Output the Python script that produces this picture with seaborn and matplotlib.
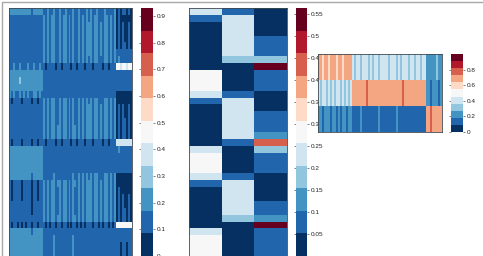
import numpy as np
import matplotlib
matplotlib.use("Agg")
import matplotlib.pyplot as plt
from matplotlib.colors import ListedColormap
from matplotlib.patches import Rectangle
import seaborn as sns

WIDTH, HEIGHT = 483, 256

# Mean weight of each row in the four column groups of the left map
left_rows = [
    [.19, .15, .15, .09], [.12, .165, .165, .07], [.12, .165, .17, .08], [.12, .165, .17, .08],
    [.12, .165, .17, .08], [.12, .165, .17, .085], [.12, .165, .17, .11], [.13, .165, .165, .15],
    [.15, .10, .10, .44], [.21, .13, .12, .12], [.23, .13, .12, .12], [.21, .13, .12, .13],
    [.16, .13, .13, .06], [.10, .165, .165, .05], [.12, .165, .17, .08], [.12, .165, .17, .08],
    [.12, .165, .17, .085], [.12, .17, .17, .09], [.12, .17, .17, .09], [.10, .10, .10, .37],
    [.20, .13, .13, .15], [.22, .13, .13, .12], [.22, .13, .13, .12], [.21, .13, .13, .12],
    [.19, .14, .16, .06], [.10, .17, .17, .05], [.10, .165, .17, .07], [.10, .165, .17, .08],
    [.11, .165, .17, .08], [.11, .165, .17, .085], [.12, .175, .17, .09], [.09, .09, .09, .45],
    [.19, .13, .13, .14], [.21, .14, .13, .11], [.22, .14, .13, .10], [.22, .14, .13, .10],
]
left_group_sizes = [17, 18, 19, 8]
left_col_offsets = [
    .01, -.02, .02, 0, -.01, .03, -.02, .01, -.01, .02, 0, -.03, .02, .01, -.02, .02, 0,
    .01, -.02, .02, -.01, .01, .03, -.02, 0, .02, -.03, .01, .02, -.01, .01, -.02, .03, 0, -.02,
    .02, -.01, .01, -.03, .02, 0, .02, -.02, .01, .03, -.01, 0, -.02, .02, .01, -.02, .01, -.01, .02,
    -.01, .02, -.02, .01, 0, -.02, .01, -.01,
]

# Three-part weights for the middle map
light, navy, blue, mid, pale, white, orange, crimson = .23, .02, .08, .13, .18, .28, .43, .56
middle_rows = [
    [light, blue, navy], [blue, light, navy], [navy, light, navy], [navy, light, navy],
    [navy, light, blue], [navy, light, blue], [navy, light, blue], [navy, pale, pale],
    [navy, navy, crimson], [white, navy, blue], [white, navy, blue], [white, navy, blue],
    [light, blue, navy], [blue, light, navy], [navy, light, navy], [navy, light, blue],
    [navy, light, blue], [navy, light, blue], [navy, light, mid], [navy, blue, orange],
    [light, navy, pale], [white, navy, blue], [white, navy, blue], [white, navy, blue],
    [light, blue, navy], [blue, light, navy], [navy, light, navy], [navy, light, navy],
    [navy, light, blue], [navy, light, blue], [navy, pale, mid], [navy, navy, crimson],
    [light, navy, blue], [white, navy, blue], [white, navy, blue], [white, navy, blue],
]

# Weights per column for the small right map
right_top = [
    .64, .66, .62, .65, .68, .63, .66, .64, .69, .62, .65, .67, .63, .66, .64, .68, .65,
    .41, .36, .43, .38, .33, .42, .37, .44, .35, .40, .36, .43, .39, .34, .42, .37, .45, .38, .35,
    .41, .37, .43, .34, .40, .36, .44, .38, .42, .35, .39, .43, .36, .41, .38, .34, .42, .37,
    .22, .27, .19, .25, .21, .28, .23, .20,
]
right_middle = [
    .38, .35, .41, .37, .33, .40, .36, .39, .34, .41, .37, .35, .40, .36, .38, .33, .37,
    .70, .66, .72, .68, .64, .71, .67, .73, .69, .65, .70, .67, .72, .66, .69, .71, .64, .68, .70,
    .66, .72, .68, .65, .70, .67, .73, .66, .69, .64, .71, .68, .66, .70, .67, .72, .65, .69,
    .20, .23, .17, .22, .19, .24, .18, .21,
]
right_bottom = [
    .20, .24, .16, .22, .19, .26, .17, .23, .20, .15, .24, .18, .21, .25, .17, .22, .19,
    .13, .17, .11, .15, .19, .12, .16, .10, .18, .14, .12, .17, .13, .19, .11, .15, .13, .18, .12,
    .16, .11, .14, .19, .12, .17, .10, .15, .13, .18, .12, .16, .14, .11, .17, .13, .15, .12,
    .70, .66, .74, .68, .72, .65, .71, .69,
]

left_ticks = [0, .1, .2, .3, .4, .5, .6, .7, .8, .9]
left_ticklabels = ["0", "0.1", "0.2", "0.3", "0.4", "0.5", "0.6", "0.7", "0.8", "0.9"]
middle_ticks = [.05, .1, .15, .2, .25, .3, .35, .4, .45, .5, .55]
middle_ticklabels = ["0.05", "0.1", "0.15", "0.2", "0.25", "0.3", "0.35", "0.4", "0.45", "0.5", "0.55"]
right_ticks = [0, .2, .4, .6, .8]
right_ticklabels = ["0", "0.2", "0.4", "0.6", "0.8"]

sns.set_theme(style="white")
plt.rcParams["font.family"] = ["Liberation Sans", "DejaVu Sans"]
# Eleven equal steps running all the way to both ends of the scale
palette = ListedColormap(plt.get_cmap("RdBu_r", 11)(np.arange(11)))

fig = plt.figure(figsize=(WIDTH / 100, HEIGHT / 100), dpi=100, facecolor="white")


def box(x0, y0, x1, y1):
    """Axes placed by pixel edges, measured from the top left."""
    return fig.add_axes([x0 / WIDTH, 1 - y1 / HEIGHT, (x1 - x0) / WIDTH, (y1 - y0) / HEIGHT])


def draw_map(values, main, bar, vmax, ticks, ticklabels):
    ax = box(*main)
    cax = box(*bar)
    sns.heatmap(values, ax=ax, cbar_ax=cax, cmap=palette, vmin=0, vmax=vmax,
                xticklabels=False, yticklabels=False)
    for side in ax.spines.values():
        side.set_visible(True)
        side.set_linewidth(0.6)
        side.set_color("#404850")
    cax.set_yticks(ticks)
    cax.set_yticklabels(ticklabels)
    cax.tick_params(axis="y", labelsize=4.6, length=1.5, width=0.4, pad=1.2,
                    colors="#222222", left=True, right=True, direction="out")
    return ax


left_values = np.array([
    np.repeat(row, left_group_sizes) + np.array(left_col_offsets) for row in left_rows
])
draw_map(left_values, (9, 8, 132, 256), (141, 8, 153, 256), .93, left_ticks, left_ticklabels)
draw_map(np.array(middle_rows), (189, 8, 287, 256), (296, 8, 307, 256), .5636,
         middle_ticks, middle_ticklabels)
right_values = np.array([right_top, right_middle, right_bottom])
draw_map(right_values, (318, 54, 442, 132), (451, 54, 463, 132), 1.0, right_ticks, right_ticklabels)

# Thin page frame along the top and left edges
fig.add_artist(Rectangle((2 / WIDTH, -0.05), 1.2, 1 - 1.5 / HEIGHT + 0.05, transform=fig.transFigure,
                         fill=False, edgecolor="#a8a8a8", linewidth=1.0))

fig.savefig("out.png", dpi=100)
